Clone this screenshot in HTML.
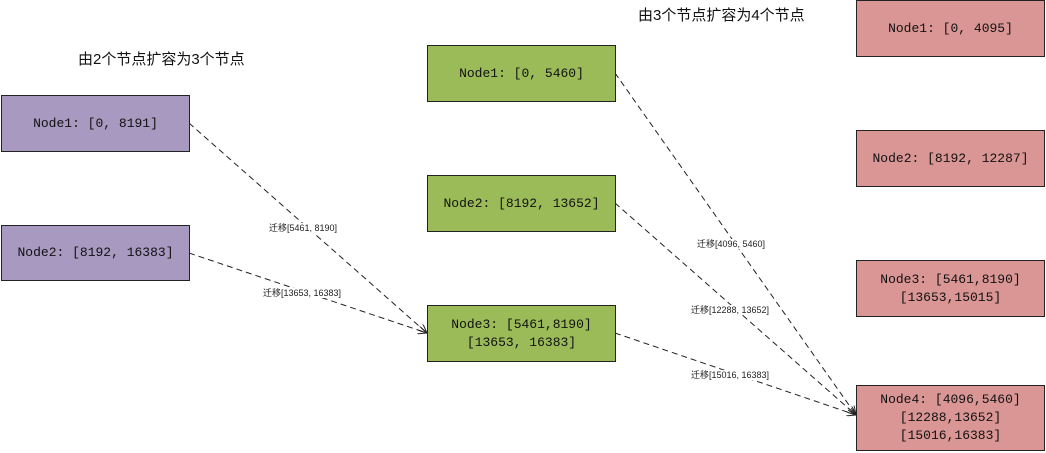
<!DOCTYPE html>
<html><head><meta charset="utf-8"><style>
body{margin:0;width:1046px;height:453px;background:#fff;position:relative;overflow:hidden;font-family:"Liberation Mono","Noto Sans CJK SC",monospace;}
.n{position:absolute;box-sizing:border-box;border:1px solid #222;display:flex;align-items:center;justify-content:center;text-align:center;font-size:13px;line-height:18px;color:#111;width:189px;}
.p{background:#a799bf}.g{background:#9bbb59}.r{background:#d99694}
.t{position:absolute;font-family:"Liberation Sans","Noto Sans CJK SC",sans-serif;font-size:15px;color:#111}
.l{position:absolute;font-family:"Liberation Sans","Noto Sans CJK SC",sans-serif;font-size:9px;color:#222;background:#fff;line-height:10px}
svg{position:absolute;left:0;top:0}
</style></head><body>
<svg width="1046" height="453">
<defs><marker id="a" markerWidth="10" markerHeight="8" refX="9" refY="4" orient="auto" markerUnits="userSpaceOnUse"><path d="M0,0L9,4L0,8" fill="none" stroke="#222"/></marker></defs>
<g stroke="#222" stroke-dasharray="6,4" fill="none">
<line x1="189" y1="123" x2="427" y2="333" marker-end="url(#a)"/>
<line x1="189" y1="253" x2="427" y2="333" marker-end="url(#a)"/>
<line x1="615" y1="73" x2="856" y2="415" marker-end="url(#a)"/>
<line x1="615" y1="203" x2="856" y2="415" marker-end="url(#a)"/>
<line x1="615" y1="333" x2="856" y2="415" marker-end="url(#a)"/>
</g></svg>
<div class="t" style="left:78px;top:48px">由2个节点扩容为3个节点</div>
<div class="t" style="left:638px;top:4px">由3个节点扩容为4个节点</div>
<div class="n p" style="left:1px;top:95px;height:57px">Node1: [0, 8191]</div>
<div class="n p" style="left:1px;top:225px;height:56px">Node2: [8192, 16383]</div>
<div class="n g" style="left:427px;top:45px;height:57px">Node1: [0, 5460]</div>
<div class="n g" style="left:427px;top:175px;height:57px">Node2: [8192, 13652]</div>
<div class="n g" style="left:427px;top:305px;height:57px">Node3: [5461,8190]<br>[13653, 16383]</div>
<div class="n r" style="left:856px;top:0px;height:57px">Node1: [0, 4095]</div>
<div class="n r" style="left:856px;top:130px;height:57px">Node2: [8192, 12287]</div>
<div class="n r" style="left:856px;top:260px;height:57px">Node3: [5461,8190]<br>[13653,15015]</div>
<div class="n r" style="left:856px;top:385px;height:66px">Node4: [4096,5460]<br>[12288,13652]<br>[15016,16383]</div>
<div class="l" style="left:269px;top:223px">迁移[5461, 8190]</div>
<div class="l" style="left:263px;top:288px">迁移[13653, 16383]</div>
<div class="l" style="left:697px;top:239px">迁移[4096, 5460]</div>
<div class="l" style="left:691px;top:305px">迁移[12288, 13652]</div>
<div class="l" style="left:691px;top:370px">迁移[15016, 16383]</div>
</body></html>
